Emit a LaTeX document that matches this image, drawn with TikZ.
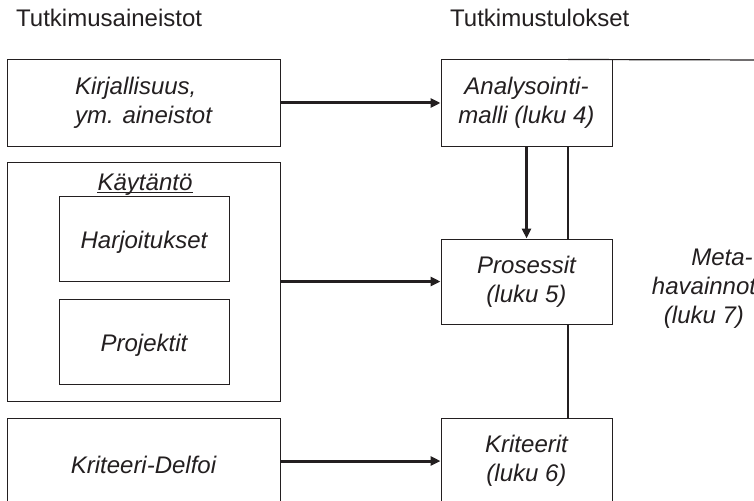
\documentclass[tikz,border=0pt]{standalone}
\usepackage{fontspec}
\setmainfont{Liberation Sans}
\usetikzlibrary{arrows.meta}
\definecolor{ink}{HTML}{231F20}
\newcommand\tallline{\rule{0pt}{25pt}}
\begin{document}
\begin{tikzpicture}[x=1pt,y=-1pt,
  box/.style={draw=ink, line width=1pt, fill=white, inner sep=0pt, align=center,
    font=\fontsize{24}{29}\selectfont\itshape, text=ink, execute at begin node=\tallline},
  plain/.style={inner sep=0pt, align=center, font=\fontsize{24}{29}\selectfont\itshape, text=ink},
  flow/.style={draw=ink, line width=3pt, -{Triangle[length=10pt,width=9pt]}},
  link/.style={draw=ink, line width=1.2pt},
  title/.style={font=\fontsize{24}{29}\selectfont, text=ink, inner sep=0pt, anchor=base west}]
\useasboundingbox (0,0) rectangle (754,500);
% titles
\node[title] (t1) at (16,27) {Tutkimusaineistot};
\node[title] (t2) at (450,27) {Tutkimustulokset};
% left column
\node[box, align=left, minimum width=273pt, minimum height=86pt] (lit) at (143.5,103) {Kirjallisuus,\\ym. aineistot};
\node[box, minimum width=273pt, minimum height=239pt] (kay) at (143.5,281.5) {};
\node[plain, anchor=base] (kayl) at (145,190) {Käytäntö};
\draw[draw=ink, line width=1pt] ([yshift=-2.5pt]kayl.base west) -- ([yshift=-2.5pt]kayl.base east);
\node[box, minimum width=170pt, minimum height=85pt] (har) at (144,238.5) {Harjoitukset};
\node[box, minimum width=170pt, minimum height=85pt] (prj) at (144,341.5) {Projektit};
\node[box, minimum width=273pt, minimum height=86pt] (del) at (143.5,461) {Kriteeri-Delfoi};
% right column
\node[box, minimum width=171pt, minimum height=86pt] (ana) at (526.5,103) {Analysointi-\\malli (luku 4)};
\node[box, minimum width=171pt, minimum height=85pt] (pro) at (526.5,281.5) {Prosessit\\(luku 5)};
\node[box, minimum width=171pt, minimum height=86pt] (kri) at (526.5,461) {Kriteerit\\(luku 6)};
\node[plain] (meta) at (704,289) {\hspace*{36pt}Meta-\\havainnot\\(luku 7)};
% connectors
\coordinate (vx) at (568,0);
\coordinate (edge) at (770,60);
\draw[flow] (lit.east) -- (ana.west);
\draw[flow] (kay.east) -- (pro.west);
\draw[flow] (del.east) -- (kri.west);
\draw[flow] (ana.south) -- (pro.north);
\draw[link] (ana.south -| vx) -- (pro.north -| vx);
\draw[link] (pro.south -| vx) -- (kri.north -| vx);
\draw[link] (ana.north -| vx) -- (edge);
\end{tikzpicture}
\end{document}
